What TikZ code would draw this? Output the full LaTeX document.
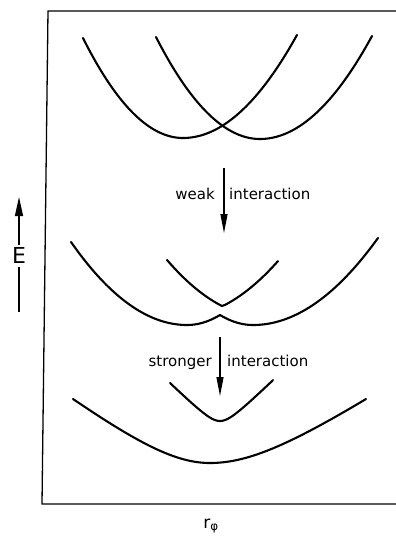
\documentclass[tikz,border=0pt]{standalone}
\usepackage{fontspec}
\setmainfont{DejaVu Sans}
\usetikzlibrary{arrows.meta}
\tikzset{
  curve/.style={line width=2.1pt, line cap=round, line join=round},
  frame/.style={line width=1.3pt},
  arr/.style={line width=1.2pt, -{Triangle[length=19pt,width=7pt]}},
  lbl/.style={inner sep=0pt, font=\fontsize{15}{18}\selectfont}
}
\begin{document}
\begin{tikzpicture}[x=1pt,y=-1pt]
\useasboundingbox (0,0) rectangle (396,536);
% frame
\draw[frame] (396,11) -- (48,11) -- (42,504) -- (396,504);
% top: crossing curves
\draw[curve] plot[samples=50, domain=83:183] (\x,{138-1.0*((\x-183)/10)^2}) -- plot[samples=50, domain=183:297] (\x,{138-0.793*((\x-183)/10)^2});
\draw[curve] plot[samples=50, domain=156:260] (\x,{139-0.943*((\x-260)/10)^2}) -- plot[samples=50, domain=260:372] (\x,{139-0.821*((\x-260)/10)^2});
% weak interaction arrow
\coordinate (w1) at (224,168);
\coordinate (w2) at (224,233);
\draw[arr] (w1) -- (w2);
\node[lbl, anchor=base east] (weak) at (215,199) {weak};
\node[lbl, anchor=base west] (wint) at (229,199) {interaction};
% middle curves
\draw[curve] plot[samples=40, domain=167:219] (\x,{317-0.594*((\x-265)/10)^2})
  .. controls (221,306.4) and (223,306.4) .. (225,304.9)
  -- plot[samples=40, domain=225:278] (\x,{317-0.571*((\x-179)/10)^2});
\draw[curve] plot[samples=50, domain=71:187] (\x,{325-0.617*((\x-187)/10)^2})
  -- plot[samples=20, domain=187:220] (\x,{325-0.92*((\x-187)/10)^2})
  -- plot[samples=20, domain=220:253] (\x,{325-0.92*((\x-253)/10)^2})
  -- plot[samples=50, domain=253:378] (\x,{325-0.557*((\x-253)/10)^2});
% stronger interaction arrow
\coordinate (s1) at (220,337);
\coordinate (s2) at (220,396);
\draw[arr] (s1) -- (s2);
\node[lbl, anchor=base east] (strong) at (212,366) {stronger};
\node[lbl, anchor=base west] (sint) at (227,366) {interaction};
% bottom curves
\draw[curve] plot[samples=60, domain=170:273] (\x,{433-sqrt(144+94.3*((\x-220)/10)^2)});
\draw[curve] plot[samples=50, domain=73:210] (\x,{516.4-sqrt(2851.6+58.26*((\x-210)/10)^2)})
  -- plot[samples=50, domain=210:366] (\x,{516.4-sqrt(2851.6+44.9*((\x-210)/10)^2)});
% energy axis label
\node[inner sep=0pt, anchor=base, font=\fontsize{22}{24}\selectfont] (E) at (19,263) {E};
\coordinate (etop) at (19,197);
\coordinate (ebot) at (19,312);
\draw[line width=1.2pt, -{Triangle[length=19pt,width=8pt]}] ([yshift=2pt]E.north) -- (etop);
\draw[line width=1.2pt] ([yshift=-4pt]E.south) -- (ebot);
% abscissa label
\node[inner sep=0pt, anchor=base, font=\fontsize{17}{20}\selectfont] (r) at (211,528) {r\textsubscript{φ}};
\end{tikzpicture}
\end{document}
